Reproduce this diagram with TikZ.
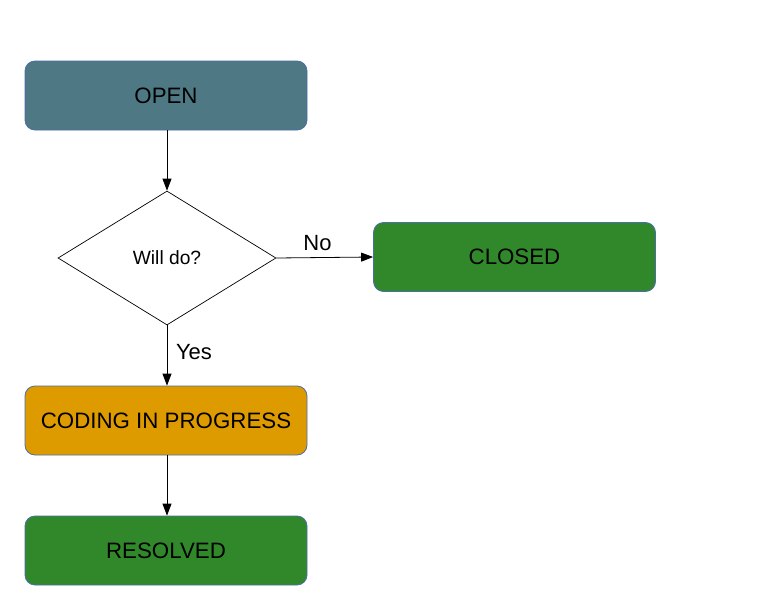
\documentclass[tikz,border=0pt]{standalone}
\usepackage{fontspec}
\setmainfont{Liberation Sans}
\usetikzlibrary{arrows.meta,shapes.geometric}
\definecolor{openfill}{HTML}{4E7883}
\definecolor{greenfill}{HTML}{31882B}
\definecolor{orangefill}{HTML}{DE9B00}
\definecolor{boxline}{HTML}{4A6FA8}
\tikzset{
  statebox/.style={draw=boxline, line width=0.8pt, rounded corners=10pt, minimum width=282pt, minimum height=69pt, inner sep=0pt, font=\fontsize{22.3}{26}\selectfont, text=black},
  decision/.style={draw=black, line width=0.7pt, diamond, minimum width=218pt, minimum height=134pt, inner sep=0pt, fill=white, font=\fontsize{19.2}{22}\selectfont},
  flow/.style={draw=black, line width=0.8pt, -{Triangle[length=12pt,width=9pt]}},
  edgelabel/.style={font=\fontsize{22}{26}\selectfont, inner sep=0pt}
}
\begin{document}
\begin{tikzpicture}[x=1pt,y=-1pt]
\useasboundingbox (0,0) rectangle (764,616);
\node[statebox, fill=openfill] (open) at (166,95.5) {OPEN};
\node[decision] (dec) at (167,258) {Will do?};
\node[statebox, fill=greenfill] (closed) at (514.5,257) {CLOSED};
\node[statebox, fill=orangefill] (coding) at (166,420.5) {CODING IN PROGRESS};
\node[statebox, fill=greenfill] (resolved) at (166,550.5) {RESOLVED};
\draw[flow] (open.south -| dec.north) -- (dec.north);
\draw[flow] (dec.east) -- (closed.west);
\draw[flow] (dec.south) -- (dec.south |- coding.north);
\draw[flow] (coding.south -| dec.south) -- (resolved.north -| dec.south);
\node[edgelabel] (nolab) at (317.5,243) {No};
\node[edgelabel] (yeslab) at (194,352) {Yes};
\end{tikzpicture}
\end{document}
